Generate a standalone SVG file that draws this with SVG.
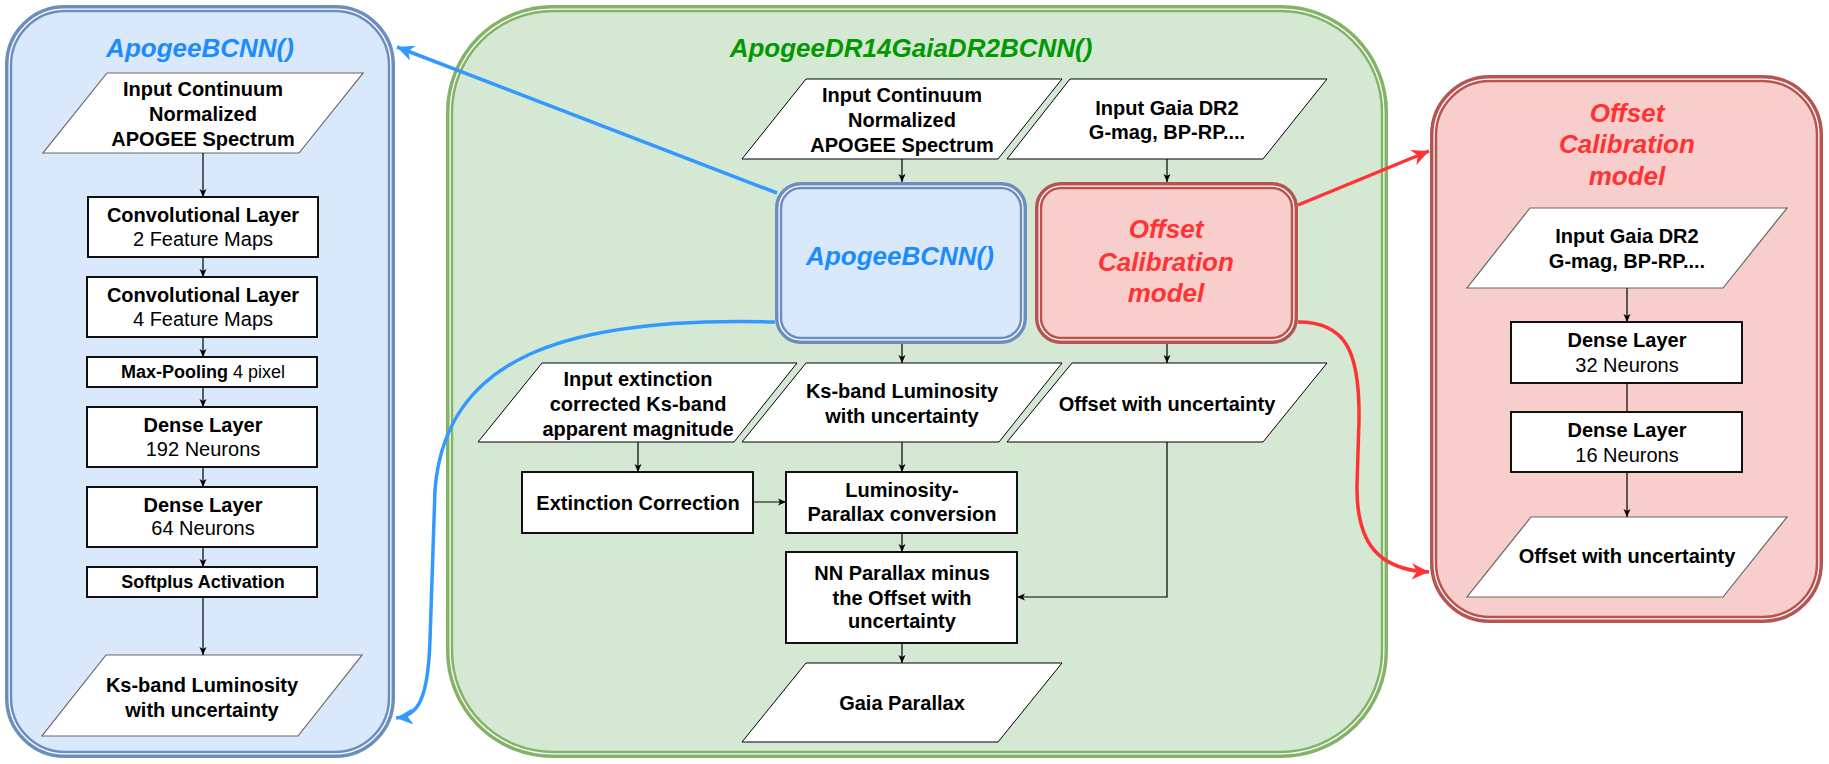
<svg xmlns="http://www.w3.org/2000/svg" width="1829" height="764" viewBox="0 0 1829 764">
<defs>
<style>
text{font-family:"Liberation Sans",Arial,Helvetica,sans-serif;text-anchor:middle;fill:#000}
.b{font-weight:bold;font-size:20px}
.r{font-weight:normal;font-size:20px}
.s{font-weight:bold;font-size:18px}
.sr{font-weight:normal;font-size:18px}
.ti{font-weight:bold;font-style:italic;font-size:26px}
.blue{fill:#1a8cff}
.green{fill:#009900}
.red{fill:#ff3333}
.box{fill:#fff;stroke:#111;stroke-width:2}
.pg{fill:#fff;stroke:#000;stroke-width:1}
.pgg{fill:#fff;stroke:#666;stroke-width:1.2}
.ln{fill:none;stroke:#000;stroke-width:1.2}
.bl{fill:none;stroke:#3399ff;stroke-width:3.5}
.rl{fill:none;stroke:#ff3333;stroke-width:3.5}
</style>
<marker id="ah" markerUnits="userSpaceOnUse" markerWidth="10" markerHeight="10" refX="8" refY="4" orient="auto"><path d="M0,0.5 L8,4 L0,7.5 L2,4 Z" fill="#000"/></marker>
<marker id="ahb" markerUnits="userSpaceOnUse" markerWidth="20" markerHeight="18" refX="17" refY="8" orient="auto"><path d="M0,0 L17,8 L0,16 L5,8 Z" fill="#3399ff"/></marker>
<marker id="ahr" markerUnits="userSpaceOnUse" markerWidth="20" markerHeight="18" refX="17" refY="8" orient="auto"><path d="M0,0 L17,8 L0,16 L5,8 Z" fill="#ff3333"/></marker>
</defs>
<rect width="1829" height="764" fill="#fff"/>

<!-- Left panel -->
<g id="left-panel">
<rect x="6.75" y="6.75" width="386.5" height="749.5" rx="58" fill="#fff" stroke="#6c8ebf" stroke-width="3.5"/>
<rect x="11" y="11" width="378" height="741" rx="54" fill="#dae8fc" stroke="#6c8ebf" stroke-width="2.5"/>
<text class="ti blue" x="200" y="57">ApogeeBCNN()</text>
</g>
<g id="l-input">
<polygon class="pgg" points="107,73 363,73 299,153 43,153"/>
<text class="b" x="203" y="96">Input Continuum</text>
<text class="b" x="203" y="121">Normalized</text>
<text class="b" x="203" y="146">APOGEE Spectrum</text>
</g>
<g id="l-conv1">
<rect class="box" x="88" y="197" width="230" height="60"/>
<text class="b" x="203" y="222">Convolutional Layer</text>
<text class="r" x="203" y="246">2 Feature Maps</text>
</g>
<g id="l-conv2">
<rect class="box" x="87" y="277" width="230" height="60"/>
<text class="b" x="203" y="302">Convolutional Layer</text>
<text class="r" x="203" y="326">4 Feature Maps</text>
</g>
<g id="l-pool">
<rect class="box" x="87" y="357" width="230" height="30"/>
<text x="203" y="378"><tspan class="s">Max-Pooling</tspan><tspan class="sr"> 4 pixel</tspan></text>
</g>
<g id="l-dense192">
<rect class="box" x="87" y="407" width="230" height="60"/>
<text class="b" x="203" y="432">Dense Layer</text>
<text class="r" x="203" y="456">192 Neurons</text>
</g>
<g id="l-dense64">
<rect class="box" x="87" y="487" width="230" height="60"/>
<text class="b" x="203" y="512">Dense Layer</text>
<text class="r" x="203" y="535">64 Neurons</text>
</g>
<g id="l-softplus">
<rect class="box" x="87" y="567" width="230" height="30"/>
<text class="s" x="203" y="588">Softplus Activation</text>
</g>
<g id="l-output">
<polygon class="pgg" points="106,655 362,655 298,736 42,736"/>
<text class="b" x="202" y="692">Ks-band Luminosity</text>
<text class="b" x="202" y="717">with uncertainty</text>
</g>

<!-- Center panel -->
<g id="center-panel">
<rect x="447.75" y="6.75" width="938.5" height="749.5" rx="105" fill="#fff" stroke="#82b366" stroke-width="3.5"/>
<rect x="452" y="11" width="930" height="741" rx="101" fill="#d5e8d4" stroke="#82b366" stroke-width="2.5"/>
<text class="ti green" x="911" y="57">ApogeeDR14GaiaDR2BCNN()</text>
</g>
<g id="c-input-spec">
<polygon class="pg" points="806,79 1062,79 998,159 742,159"/>
<text class="b" x="902" y="102">Input Continuum</text>
<text class="b" x="902" y="127">Normalized</text>
<text class="b" x="902" y="152">APOGEE Spectrum</text>
</g>
<g id="c-input-gaia">
<polygon class="pg" points="1070,79 1327,79 1263,159 1007,159"/>
<text class="b" x="1167" y="115">Input Gaia DR2</text>
<text class="b" x="1167" y="139">G-mag, BP-RP....</text>
</g>
<g id="c-apogeebcnn">
<rect x="776.75" y="183.75" width="248.5" height="158.5" rx="24" fill="#fff" stroke="#6c8ebf" stroke-width="3.5"/>
<rect x="781" y="188" width="240" height="150" rx="20" fill="#dae8fc" stroke="#6c8ebf" stroke-width="2.5"/>
<text class="ti blue" x="900" y="265">ApogeeBCNN()</text>
</g>
<g id="c-offsetmodel">
<rect x="1036.75" y="183.75" width="259.5" height="158.5" rx="24" fill="#fff" stroke="#b85450" stroke-width="3.5"/>
<rect x="1041" y="188" width="251" height="150" rx="20" fill="#f8cecc" stroke="#b85450" stroke-width="2.5"/>
<text class="ti red" x="1166" y="238">Offset</text>
<text class="ti red" x="1166" y="271">Calibration</text>
<text class="ti red" x="1166" y="302">model</text>
</g>
<g id="c-input-ext">
<polygon class="pg" points="542,363 797,363 734,442 478,442"/>
<text class="b" x="638" y="386">Input extinction</text>
<text class="b" x="638" y="411">corrected Ks-band</text>
<text class="b" x="638" y="436">apparent magnitude</text>
</g>
<g id="c-ksband">
<polygon class="pg" points="806,363 1062,363 999,442 742,442"/>
<text class="b" x="902" y="398">Ks-band Luminosity</text>
<text class="b" x="902" y="423">with uncertainty</text>
</g>
<g id="c-offset">
<polygon class="pg" points="1072,363 1327,363 1263,442 1007,442"/>
<text class="b" x="1167" y="411">Offset with uncertainty</text>
</g>
<g id="c-extcorr">
<rect class="box" x="522" y="472" width="231" height="61"/>
<text class="b" x="638" y="510">Extinction Correction</text>
</g>
<g id="c-lumpar">
<rect class="box" x="786" y="472" width="231" height="61"/>
<text class="b" x="902" y="497">Luminosity-</text>
<text class="b" x="902" y="521">Parallax conversion</text>
</g>
<g id="c-nnpar">
<rect class="box" x="786" y="552" width="231" height="91"/>
<text class="b" x="902" y="580">NN Parallax minus</text>
<text class="b" x="902" y="605">the Offset with</text>
<text class="b" x="902" y="628">uncertainty</text>
</g>
<g id="c-gaiapar">
<polygon class="pg" points="806,663 1062,663 998,742 742,742"/>
<text class="b" x="902" y="710">Gaia Parallax</text>
</g>

<!-- Right panel -->
<g id="right-panel">
<rect x="1431.75" y="76.75" width="389.5" height="544.5" rx="58" fill="#fff" stroke="#b85450" stroke-width="3.5"/>
<rect x="1436" y="81" width="381" height="536" rx="54" fill="#f8cecc" stroke="#b85450" stroke-width="2.5"/>
<text class="ti red" x="1627" y="122">Offset</text>
<text class="ti red" x="1627" y="153">Calibration</text>
<text class="ti red" x="1627" y="185">model</text>
</g>
<g id="r-input">
<polygon class="pgg" points="1530,208 1787,208 1723,288 1467,288"/>
<text class="b" x="1627" y="243">Input Gaia DR2</text>
<text class="b" x="1627" y="268">G-mag, BP-RP....</text>
</g>
<g id="r-dense32">
<rect class="box" x="1511" y="322" width="231" height="61"/>
<text class="b" x="1627" y="347">Dense Layer</text>
<text class="r" x="1627" y="372">32 Neurons</text>
</g>
<g id="r-dense16">
<rect class="box" x="1511" y="412" width="231" height="60"/>
<text class="b" x="1627" y="437">Dense Layer</text>
<text class="r" x="1627" y="462">16 Neurons</text>
</g>
<g id="r-output">
<polygon class="pgg" points="1531,517 1787,517 1723,597 1467,597"/>
<text class="b" x="1627" y="563">Offset with uncertainty</text>
</g>

<!-- Connectors -->
<g id="connectors">
<line class="ln" x1="203" y1="153" x2="203" y2="197" marker-end="url(#ah)"/>
<line class="ln" x1="203" y1="257" x2="203" y2="277" marker-end="url(#ah)"/>
<line class="ln" x1="203" y1="337" x2="203" y2="357" marker-end="url(#ah)"/>
<line class="ln" x1="203" y1="387" x2="203" y2="407" marker-end="url(#ah)"/>
<line class="ln" x1="203" y1="467" x2="203" y2="487" marker-end="url(#ah)"/>
<line class="ln" x1="203" y1="547" x2="203" y2="567" marker-end="url(#ah)"/>
<line class="ln" x1="203" y1="597" x2="203" y2="655" marker-end="url(#ah)"/>

<line class="ln" x1="902" y1="159" x2="902" y2="182" marker-end="url(#ah)"/>
<line class="ln" x1="1167" y1="159" x2="1167" y2="182" marker-end="url(#ah)"/>
<line class="ln" x1="902" y1="344" x2="902" y2="363" marker-end="url(#ah)"/>
<line class="ln" x1="1167" y1="344" x2="1167" y2="363" marker-end="url(#ah)"/>
<line class="ln" x1="638" y1="442" x2="638" y2="472" marker-end="url(#ah)"/>
<line class="ln" x1="902" y1="442" x2="902" y2="472" marker-end="url(#ah)"/>
<line class="ln" x1="753" y1="502" x2="786" y2="502" marker-end="url(#ah)"/>
<line class="ln" x1="902" y1="533" x2="902" y2="552" marker-end="url(#ah)"/>
<line class="ln" x1="902" y1="643" x2="902" y2="663" marker-end="url(#ah)"/>
<polyline class="ln" points="1167,442 1167,597 1017,597" marker-end="url(#ah)"/>

<line class="ln" x1="1627" y1="288" x2="1627" y2="322" marker-end="url(#ah)"/>
<line class="ln" x1="1627" y1="383" x2="1627" y2="412"/>
<line class="ln" x1="1627" y1="472" x2="1627" y2="517" marker-end="url(#ah)"/>

<line class="bl" x1="777" y1="193" x2="397" y2="47" marker-end="url(#ahb)"/>
<path class="bl" d="M775,322 C560,316 445,360 435,490 L430,640 C428,700 418,716 396,718" marker-end="url(#ahb)"/>
<line class="rl" x1="1298" y1="205" x2="1429" y2="151" marker-end="url(#ahr)"/>
<path class="rl" d="M1298,322 C1345,322 1360,350 1359,420 L1357,485 C1356,545 1380,570 1429,572" marker-end="url(#ahr)"/>
</g>
</svg>
